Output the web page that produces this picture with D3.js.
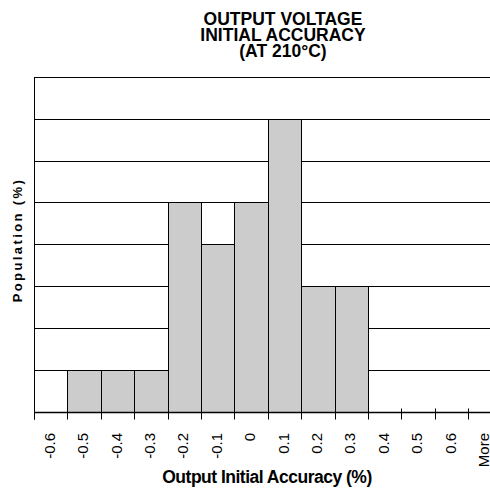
<!DOCTYPE html>
<html>
<head>
<meta charset="utf-8">
<script src="https://cdn.jsdelivr.net/npm/d3@7"></script>
<style>
  body { margin: 0; background: #fff; }
  svg { display: block; font-family: "Liberation Sans", Arial, sans-serif; }
</style>
</head>
<body>
<svg id="chart" width="490" height="489"></svg>
<script>
const categories = ["-0.6", "-0.5", "-0.4", "-0.3", "-0.2", "-0.1", "0", "0.1", "0.2", "0.3", "0.4", "0.5", "0.6", "More"];
const population = [0, 1, 1, 1, 5, 4, 5, 7, 3, 3, 0, 0, 0, 0];
const gridValues = [1, 2, 3, 4, 5, 6, 7, 8];
const titleLines = ["OUTPUT VOLTAGE", "INITIAL ACCURACY", "(AT 210°C)"];

const svg = d3.select("#chart");

const margin = { top: 77, left: 34 };
const plotBottom = 411.5;
const bandW = 33.4;

const x = d3.scaleBand()
  .domain(categories)
  .range([margin.left, margin.left + bandW * categories.length])
  .padding(0);

const y = d3.scaleLinear().domain([0, 8]).range([plotBottom, margin.top]);

// horizontal grid lines
svg.append("g")
  .selectAll("line")
  .data(gridValues)
  .enter()
  .append("line")
  .attr("x1", margin.left)
  .attr("x2", x.range()[1])
  .attr("y1", d => Math.round(y(d)) + 0.5)
  .attr("y2", d => Math.round(y(d)) + 0.5)
  .attr("stroke", "#000")
  .attr("stroke-width", 1);

// bars
svg.append("g")
  .selectAll("rect")
  .data(categories.map((c, i) => ({ c, v: population[i] })).filter(d => d.v > 0))
  .enter()
  .append("rect")
  .attr("x", d => Math.round(x(d.c)) + 0.5)
  .attr("y", d => Math.round(y(d.v)) + 0.5)
  .attr("width", d => Math.round(x(d.c) + bandW) - Math.round(x(d.c)))
  .attr("height", d => Math.round(y(0)) - Math.round(y(d.v)))
  .attr("fill", "#cccccc")
  .attr("stroke", "#000")
  .attr("stroke-width", 1);

// left axis line
svg.append("line")
  .attr("x1", margin.left + 0.5)
  .attr("x2", margin.left + 0.5)
  .attr("y1", margin.top)
  .attr("y2", plotBottom + 8)
  .attr("stroke", "#000");

// bottom axis with ticks at band edges
const xAxis = svg.append("g").attr("class", "axis-x");
xAxis.append("line")
  .attr("x1", margin.left)
  .attr("x2", x.range()[1])
  .attr("y1", Math.round(plotBottom) + 0.5)
  .attr("y2", Math.round(plotBottom) + 0.5)
  .attr("stroke", "#000")
  .attr("stroke-width", 1.5);

xAxis.selectAll(".tick")
  .data(categories)
  .enter()
  .append("line")
  .attr("x1", d => Math.round(x(d)) + 0.5)
  .attr("x2", d => Math.round(x(d)) + 0.5)
  .attr("y1", plotBottom - 3)
  .attr("y2", plotBottom + 8)
  .attr("stroke", "#000");

xAxis.selectAll("text")
  .data(categories)
  .enter()
  .append("text")
  .attr("transform", d => `translate(${x(d) + x.bandwidth() / 2 + 4}, 433) rotate(-90)`)
  .attr("text-anchor", "end")
  .attr("font-size", 15)
  .text(d => d);

// axis titles
svg.append("text")
  .attr("x", 267)
  .attr("y", 483)
  .attr("text-anchor", "middle")
  .attr("font-size", 17.5)
  .attr("font-weight", "bold")
  .attr("letter-spacing", -0.5)
  .text("Output Initial Accuracy (%)");

svg.append("text")
  .attr("transform", "translate(22, 240) rotate(-90)")
  .attr("text-anchor", "middle")
  .attr("font-size", 13)
  .attr("font-weight", "bold")
  .attr("letter-spacing", 2.4)
  .text("Population (%)");

// title
svg.append("text")
  .attr("text-anchor", "middle")
  .attr("font-size", 17.5)
  .attr("font-weight", "bold")
  .selectAll("tspan")
  .data(titleLines)
  .enter()
  .append("tspan")
  .attr("x", 283)
  .attr("y", (d, i) => 25 + i * 16)
  .text(d => d);
</script>
</body>
</html>
